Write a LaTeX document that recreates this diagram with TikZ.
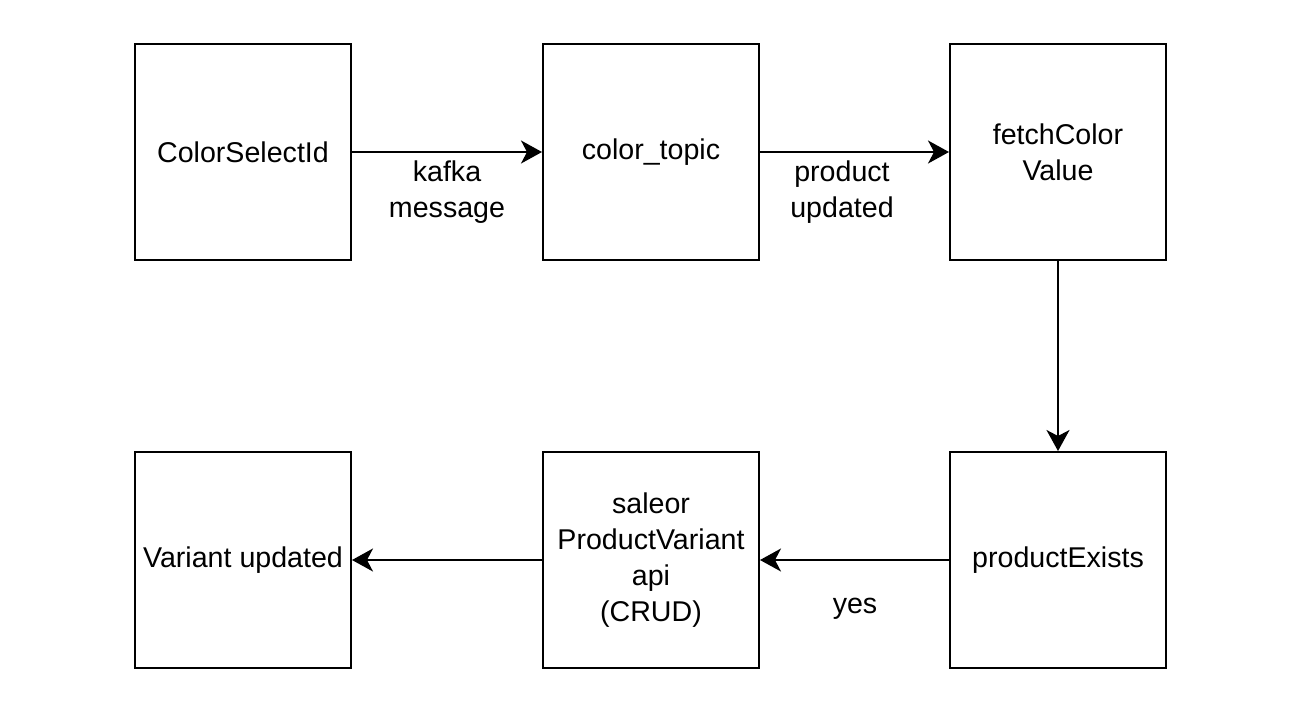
\documentclass[tikz,border=0pt]{standalone}
\usepackage{fontspec}
\setmainfont{Liberation Sans}
\usetikzlibrary{arrows.meta}

\tikzset{
  stepbox/.style={draw,line width=2pt,minimum width=216pt,minimum height=216pt,
    align=center,inner sep=2pt},
  flow/.style={line width=2pt,-{Stealth[length=21pt,width=23pt,inset=6pt]}},
  edgelabel/.style={align=center}
}

\begin{document}
\begin{tikzpicture}[x=1pt,y=-1pt,font=\fontsize{28.6}{36}\selectfont]
  \useasboundingbox (0,0) rectangle (1290,716);

  \node [stepbox] (colorid) at (243,152) {ColorSelectId};
  \node [stepbox] (topic) at (651,152) {color\_topic};
  \node [stepbox] (fetch) at (1058,152) {fetchColor\\Value};

  \node [stepbox] (exists) at (1058,560) {productExists};
  \node [stepbox] (saleor) at (651,560) {saleor\\ProductVariant\\api\\ (CRUD)};
  \node [stepbox] (variant) at (243,560) {Variant updated};

  \draw [flow] (colorid) -- (topic);
  \draw [flow] (topic) -- (fetch);
  \draw [flow] (fetch) -- (exists);
  \draw [flow] (exists) -- (saleor);
  \draw [flow] (saleor) -- (variant);

  \node [edgelabel] (kafka) at (447,192) {kafka\\message};
  \node [edgelabel] (updated) at (842,192) {product\\updated};
  \node [edgelabel] (yes) at (855,609) {yes};
\end{tikzpicture}
\end{document}
